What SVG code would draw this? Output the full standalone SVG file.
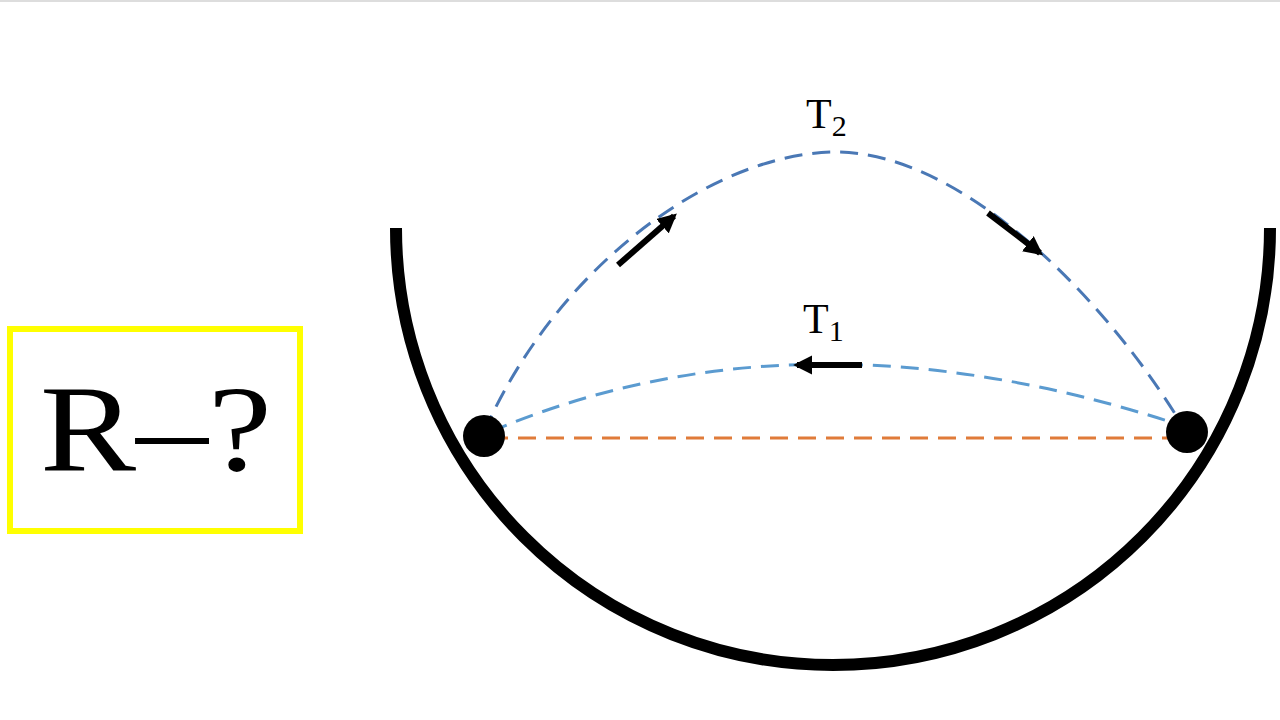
<svg xmlns="http://www.w3.org/2000/svg" width="1280" height="720" viewBox="0 0 1280 720">
<defs>
<marker id="ah" viewBox="0 0 10 10" refX="8" refY="5" markerWidth="3.2" markerHeight="3.2" orient="auto"><path d="M0,0L10,5L0,10z" fill="#000"/></marker>
<style>
.lbl{font-family:"Liberation Serif","DejaVu Serif",serif;fill:#000}
.arr{stroke:#000;stroke-width:6;fill:none;marker-end:url(#ah)}
</style>
</defs>
<rect width="1280" height="720" fill="#fff"/>
<line x1="0" y1="1" x2="1280" y2="1" stroke="#ddd" stroke-width="2"/>
<g id="bowl"><path d="M396,228 A437,437 0 0 0 1270,228" fill="none" stroke="#000" stroke-width="12"/></g>
<g id="box"><rect x="10" y="329" width="290" height="202" fill="none" stroke="#ffff00" stroke-width="6"/>
<text class="lbl" x="40" y="470" font-size="122" textLength="232" lengthAdjust="spacingAndGlyphs">R–?</text></g>
<g id="connectors">
<line x1="490" y1="438" x2="1180" y2="438" stroke="#e07b39" stroke-width="3" stroke-dasharray="18,10"/>
<path d="M484,432 C560,260 720,150 840,152 C960,155 1100,290 1182,425" fill="none" stroke="#4a78b5" stroke-width="3" stroke-dasharray="18,10"/>
<path d="M490,432 Q800,300 1180,425" fill="none" stroke="#5b9bd0" stroke-width="3" stroke-dasharray="18,10"/>
<line class="arr" x1="618" y1="265" x2="674" y2="216"/>
<line class="arr" x1="988" y1="213" x2="1040" y2="253"/>
<line class="arr" x1="862" y1="365" x2="797" y2="365"/>
</g>
<g id="ballL"><circle cx="484" cy="436" r="21" fill="#000"/></g>
<g id="ballR"><circle cx="1187" cy="432" r="21" fill="#000"/></g>
<g id="labelT2"><text class="lbl" x="806" y="128" font-size="42">T<tspan font-size="30" dy="8">2</tspan></text></g>
<g id="labelT1"><text class="lbl" x="803" y="333" font-size="42">T<tspan font-size="30" dy="8">1</tspan></text></g>
</svg>
